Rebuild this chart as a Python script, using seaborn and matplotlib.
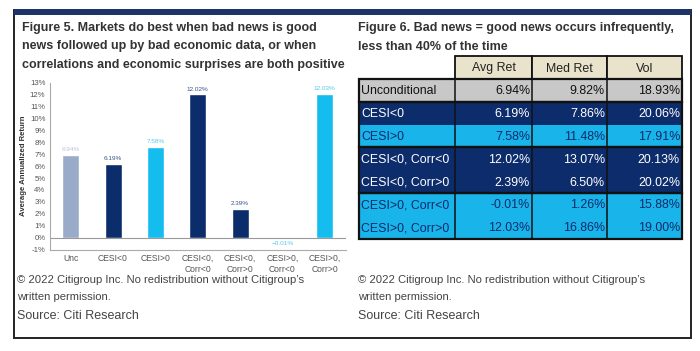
import numpy as np
import pandas as pd
import seaborn as sns
import matplotlib.pyplot as plt
from matplotlib.patches import Rectangle

# ===== data =====
bar_cats = ["Unc", "CESI<0", "CESI>0", "CESI<0,\nCorr<0", "CESI<0,\nCorr>0",
            "CESI>0,\nCorr<0", "CESI>0,\nCorr>0"]
bar_vals = [6.94, 6.19, 7.58, 12.02, 2.39, -0.01, 12.03]
bar_cols = ["#9aabc9", "#0b2d6b", "#14bdee", "#0b2d6b", "#0b2d6b", "#14bdee", "#14bdee"]
lab_cols = ["#b8c3d8", "#3a5488", "#52c9ee", "#3a5488", "#3a5488", "#52c9ee", "#52c9ee"]
y_ticks = list(range(-1, 14))

tbl_head = ["Avg Ret", "Med Ret", "Vol"]
tbl_rows = ["Unconditional", "CESI<0", "CESI>0", "CESI<0, Corr<0", "CESI<0, Corr>0",
            "CESI>0, Corr<0", "CESI>0, Corr>0"]
avg_ret = ["6.94%", "6.19%", "7.58%", "12.02%", "2.39%", "-0.01%", "12.03%"]
med_ret = ["9.82%", "7.86%", "11.48%", "13.07%", "6.50%", "1.26%", "16.86%"]
vol = ["18.93%", "20.06%", "17.91%", "20.13%", "20.02%", "15.88%", "19.00%"]
row_fill = ["#c8c8c8", "#0d2c6c", "#18b4ea", "#0d2c6c", "#0d2c6c", "#18b4ea", "#18b4ea"]
row_text = ["#111111", "white", "#0d2c6c", "white", "white", "#0d2c6c", "#0d2c6c"]
groups = [(0, 1), (1, 3), (3, 5), (5, 7)]  # row blocks with a frame round them

title_l = ["Figure 5. Markets do best when bad news is good",
           "news followed up by bad economic data, or when",
           "correlations and economic surprises are both positive"]
title_r = ["Figure 6. Bad news = good news occurs infrequently,",
           "less than 40% of the time"]
foot = ["\u00a9 2022 Citigroup Inc. No redistribution without Citigroup\u2019s",
        "written permission."]
source = "Source: Citi Research"

sns.set_style("white")
plt.rcParams["font.family"] = ["Liberation Sans", "DejaVu Sans"]

W, H = 700, 351
fig = plt.figure(figsize=(7, 3.51), dpi=100)

# overlay in pixel coords for frame, titles, footers and the table
ov = fig.add_axes([0, 0, 1, 1])
ov.set_xlim(0, W)
ov.set_ylim(H, 0)
ov.axis("off")
ov.patch.set_alpha(0)

ov.add_patch(Rectangle((14, 10), 677, 328, fill=False, ec="#222222", lw=1.4))
ov.add_patch(Rectangle((14, 9), 677, 5.5, color="#1c3468", lw=0))

for i, s in enumerate(title_l):
    ov.text(22, 28 + i * 18.5, s, fontsize=9.0, weight="bold", color="#333333", va="center")
for i, s in enumerate(title_r):
    ov.text(358, 28 + i * 18.5, s, fontsize=9.0, weight="bold", color="#333333", va="center")
for x0 in (17, 358):
    for i, s in enumerate(foot):
        ov.text(x0, 280 + i * 17, s, fontsize=8.1, color="#444444", va="center")
    ov.text(x0, 316, source, fontsize=9.0, color="#444444", va="center")

# ===== table =====
col_x = [359, 455, 532, 607, 682]
head_top, head_bot = 56, 79
row_h = 22.8
row_y = [head_bot + i * row_h for i in range(len(tbl_rows) + 1)]
cols = [avg_ret, med_ret, vol]
fs_t = 8.9

for c, name in enumerate(tbl_head):
    ov.add_patch(Rectangle((col_x[c + 1], head_top), col_x[c + 2] - col_x[c + 1],
                           head_bot - head_top, fc="#e9e3cb", ec="#111111", lw=1.3))
    ov.text((col_x[c + 1] + col_x[c + 2]) / 2, (head_top + head_bot) / 2 + 1, name,
            fontsize=fs_t, color="#222222", ha="center", va="center")

for r, name in enumerate(tbl_rows):
    y0, y1 = row_y[r], row_y[r + 1]
    ov.add_patch(Rectangle((col_x[0], y0), col_x[-1] - col_x[0], y1 - y0,
                           fc=row_fill[r], lw=0))
    yc = (y0 + y1) / 2 + 1
    ov.text(col_x[0] + 2, yc, name, fontsize=fs_t, color=row_text[r], va="center")
    for c in range(3):
        ov.text(col_x[c + 2] - 2, yc, cols[c][r], fontsize=fs_t, color=row_text[r],
                ha="right", va="center")

for a, b in groups:
    ov.add_patch(Rectangle((col_x[0], row_y[a]), col_x[-1] - col_x[0],
                           row_y[b] - row_y[a], fill=False, ec="#111111", lw=1.6))
for x in col_x[1:-1]:
    ov.plot([x, x], [row_y[0], row_y[-1]], color="#111111", lw=1.1)

# ===== bar chart =====
top, bot = 82.7, 249.6
ax = fig.add_axes([49.5 / W, 1 - bot / H, 296.5 / W, (bot - top) / H])
df = pd.DataFrame({"cat": bar_cats, "val": bar_vals})
sns.barplot(data=df, x="cat", y="val", hue="cat", palette=bar_cols, width=0.4,
            legend=False, ax=ax, saturation=1)
ax.set_xlim(-0.5, len(bar_cats) - 0.5)
ax.set_ylim(-1, 13)
ax.set_yticks(y_ticks)
ax.set_yticklabels([f"{t}%" for t in y_ticks], fontsize=5.6, color="#555555")
ax.tick_params(axis="y", length=0, pad=3)
ax.tick_params(axis="x", length=0, pad=3, labelsize=6.2, labelcolor="#555555")
ax.set_xticks(range(len(bar_cats)))
ax.set_xticklabels(bar_cats, linespacing=1.3)
ax.set_xticks(np.arange(-0.5, len(bar_cats)), minor=True)
ax.tick_params(axis="x", which="minor", length=3, color="#999999", width=0.6)
ax.set_xlabel("")
ax.set_ylabel("Average Annualized Return", fontsize=5.6, weight="bold", color="#333333")
ax.yaxis.set_label_coords(-22 / 296.5, 0.5)
ax.axhline(0, color="#999999", lw=0.8)
for s in ("top", "right"):
    ax.spines[s].set_visible(False)
for s in ("left", "bottom"):
    ax.spines[s].set_color("#aaaaaa")
    ax.spines[s].set_linewidth(0.8)

for i, v in enumerate(bar_vals):
    off = 0.45 if v >= 0 else -0.45
    ax.text(i, v + off, f"{v:.2f}%".replace("-", "\u2212"), fontsize=4.6, color=lab_cols[i],
            ha="center", va="center")

fig.savefig("out.png", dpi=100)
